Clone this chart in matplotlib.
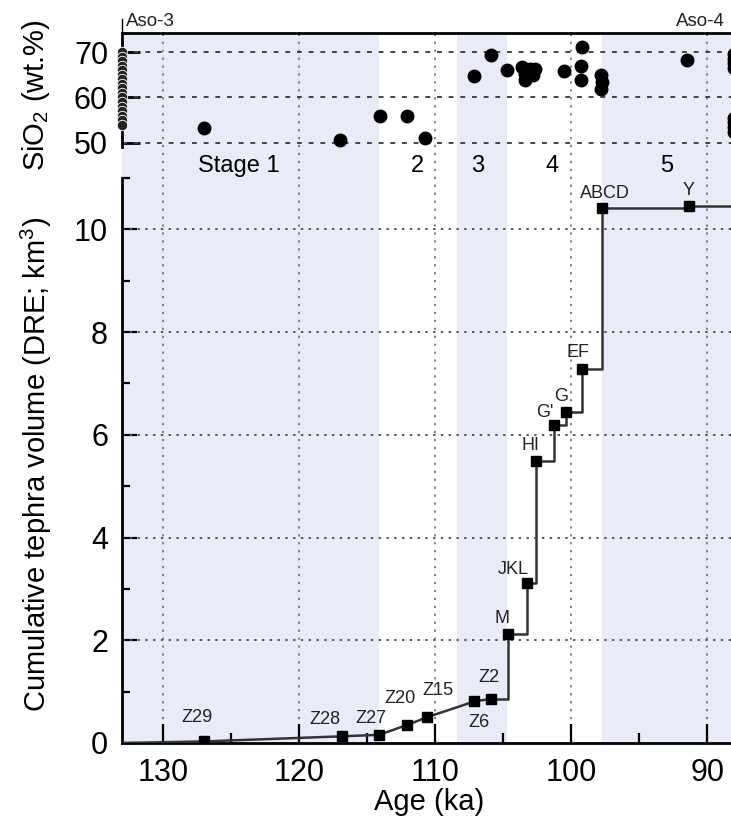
import matplotlib
matplotlib.use('Agg')
import matplotlib.pyplot as plt
import matplotlib.transforms as mtransforms

plt.rcParams['font.family'] = ['Liberation Sans', 'DejaVu Sans']
plt.rcParams['mathtext.fontset'] = 'custom'
plt.rcParams['mathtext.rm'] = 'Liberation Sans'
plt.rcParams['mathtext.it'] = 'Liberation Sans:italic'

# tephra layers between Aso-3 and Aso-4: age (ka) and cumulative DRE volume (km3)
tephra = ['Z29', 'Z28', 'Z27', 'Z20', 'Z15', 'Z6', 'Z2', 'M', 'JKL', 'HI', "G'", 'G', 'EF', 'ABCD', 'Y']
tephra_age = [127.0, 116.85, 114.1, 112.05, 110.6, 107.1, 105.85, 104.65, 103.25, 102.55, 101.25, 100.4, 99.2, 97.7, 91.35]
cum_vol = [0.03, 0.13, 0.16, 0.35, 0.50, 0.81, 0.86, 2.13, 3.11, 5.50, 6.20, 6.44, 7.28, 10.42, 10.46]
n_smooth = 7  # Z29..Z2 joined directly, the rest as steps

# SiO2 of the inter-caldera tephras
sio2_age = [127.0, 117.0, 114.06, 112.06, 110.7, 107.15, 105.9, 104.7,
            103.6, 103.4, 103.0, 102.65, 103.35, 102.8,
            100.53, 99.2, 99.26, 99.26, 97.8, 97.74, 97.8, 91.47]
sio2 = [53.3, 50.7, 55.9, 55.9, 51.0, 64.65, 69.4, 66.1,
        66.7, 63.8, 66.3, 66.3, 65.2, 64.9,
        65.8, 71.2, 66.85, 63.9, 64.9, 63.4, 61.9, 68.2]

aso3_age = 133.0
aso3_sio2 = [70, 69, 68, 67, 66, 65, 64, 63, 62, 61, 60, 59, 58, 57, 56, 55, 54]
aso4_age = 88.0
aso4_sio2 = [69.5, 68.5, 67.5, 66.5, 55.5, 54.5, 53.5, 52.5]

# stages
stage_edges = [133.0, 114.1, 108.4, 104.7, 97.7, 80.0]
stage_names = ['Stage 1', '2', '3', '4', '5']
stage_label_age = [124.4, 111.3, 106.9, 101.4, 93.0]

# label offsets (points) for the tephra names
label_off = {'Z29': (-5, 17), 'Z28': (-12, 12), 'Z27': (-6, 12), 'Z20': (-5, 19),
             'Z15': (8, 19), 'Z6': (3, -15), 'Z2': (-2, 15), 'M': (-4, 11),
             'JKL': (-10, 10), 'HI': (-4, 11), "G'": (-7, 9), 'G': (-3, 11),
             'EF': (-3, 12), 'ABCD': (2, 10), 'Y': (0, 11)}

W, H = 731, 825
XL, XR = 133.0, 87.0
band = '#e9ebf8'
fs_tick = 22


def box(x0, y0, x1, y1):
    return [x0 / W, 1 - y1 / H, (x1 - x0) / W, (y1 - y0) / H]


fig = plt.figure(figsize=(W / 100, H / 100), dpi=100)
ax_bg = fig.add_axes(box(122, 33, 748, 743))
ax_top = fig.add_axes(box(122, 33, 748, 147))
ax_vol = fig.add_axes(box(122, 178, 748, 743))

# background: stage bands and vertical grid
for i in range(len(stage_names)):
    if i % 2 == 0:
        ax_bg.axvspan(stage_edges[i], stage_edges[i + 1], color=band, lw=0, zorder=0)
for t in [130, 120, 110, 100, 90]:
    ax_bg.axvline(t, color='#777777', lw=1.3, ls=(0, (1.2, 3.2)), zorder=1)
ax_bg.set_xlim(XL, XR)
ax_bg.set_ylim(0, 1)
ax_bg.axis('off')
tr = mtransforms.blended_transform_factory(ax_bg.transData, ax_bg.transAxes)
for name, a in zip(stage_names, stage_label_age):
    ax_bg.text(a, (743 - 166) / 710, name, transform=tr, ha='center', va='center', fontsize=17)

# top panel: SiO2
ax_top.set_facecolor('none')
ax_top.set_xlim(XL, XR)
ax_top.set_ylim(49.1, 74.2)
ax_top.plot(sio2_age, sio2, 'o', color='k', ms=9, zorder=4)
ax_top.plot([aso3_age] * len(aso3_sio2), aso3_sio2, 'o', color='#222222', mec='white', mew=0.6,
            ms=7.5, clip_on=False, zorder=5)
ax_top.plot([aso4_age] * len(aso4_sio2), aso4_sio2, 'o', color='k', ms=9, clip_on=False, zorder=4)
ax_top.set_yticks([50, 60, 70])
ax_top.set_xticks([])
ax_top.tick_params(axis='y', direction='in', length=13, width=2, labelsize=fs_tick, pad=10)
for y in [50, 60, 70]:
    ax_top.axhline(y, color='#444444', lw=1.4, ls=(0, (2.5, 3.5)), zorder=2)
ax_top.spines['bottom'].set_visible(False)
ax_top.spines['right'].set_visible(False)
ax_top.spines['left'].set_linewidth(2)
ax_top.spines['top'].set_linewidth(2)

trt = mtransforms.blended_transform_factory(ax_top.transData, ax_top.transAxes)
ax_top.plot([aso3_age, aso3_age], [1, 1 + 14 / 114], color='k', lw=1, transform=trt, clip_on=False)
ax_top.annotate('Aso-3', (aso3_age, 1), xycoords=trt, xytext=(3, 2), textcoords='offset points',
                ha='left', va='bottom', fontsize=13.5, color='#222222')
ax_top.annotate('Aso-4', (aso4_age, 1), xycoords=trt, xytext=(-7, 2), textcoords='offset points',
                ha='right', va='bottom', fontsize=13.5, color='#222222')

# lower panel: cumulative volume
ax_vol.set_facecolor('none')
ax_vol.set_xlim(XL, XR)
ax_vol.set_ylim(0, 11)
lc = '#333333'
ax_vol.plot([aso3_age] + tephra_age[:n_smooth], [0] + cum_vol[:n_smooth], color=lc, lw=1.8, zorder=3)
ax_vol.step(tephra_age[n_smooth - 1:] + [XR], cum_vol[n_smooth - 1:] + [cum_vol[-1]], where='post',
            color=lc, lw=1.8, zorder=3)
ax_vol.plot(tephra_age, cum_vol, 's', color='k', ms=6.5, zorder=4)
for name, a, v in zip(tephra, tephra_age, cum_vol):
    ax_vol.annotate(name, (a, v), xytext=label_off[name], textcoords='offset points',
                    ha='center', va='center', fontsize=13, color='#222222')

ax_vol.set_yticks([0, 2, 4, 6, 8, 10])
ax_vol.set_yticks(range(1, 12, 2), minor=True)
ax_vol.set_xticks([130, 120, 110, 100, 90])
ax_vol.set_xticks([125, 115, 105, 95], minor=True)
ax_vol.tick_params(axis='both', which='both', direction='in', width=1.6, labelsize=fs_tick)
ax_vol.tick_params(axis='y', which='major', length=11, pad=10)
ax_vol.tick_params(axis='y', which='minor', length=6)
ax_vol.tick_params(axis='x', which='major', length=14, pad=11)
ax_vol.tick_params(axis='x', which='minor', length=7)
for y in [2, 4, 6, 8, 10]:
    ax_vol.axhline(y, color='#555555', lw=1.4, ls=(0, (1.2, 2.8)), zorder=2)
ax_vol.spines['top'].set_visible(False)
ax_vol.spines['right'].set_visible(False)
ax_vol.spines['left'].set_linewidth(2)
ax_vol.spines['bottom'].set_linewidth(2)

fig.text(36 / W, 1 - 95 / H, r'SiO$_2$ (wt.%)', rotation=90, ha='center', va='center', fontsize=21)
fig.text(36 / W, 1 - 464 / H, r'Cumulative tephra volume (DRE; km$^3$)', rotation=90,
         ha='center', va='center', fontsize=21)
fig.text(429 / W, 1 - 802 / H, 'Age (ka)', ha='center', va='center', fontsize=21)

fig.savefig('out.png', dpi=100)
